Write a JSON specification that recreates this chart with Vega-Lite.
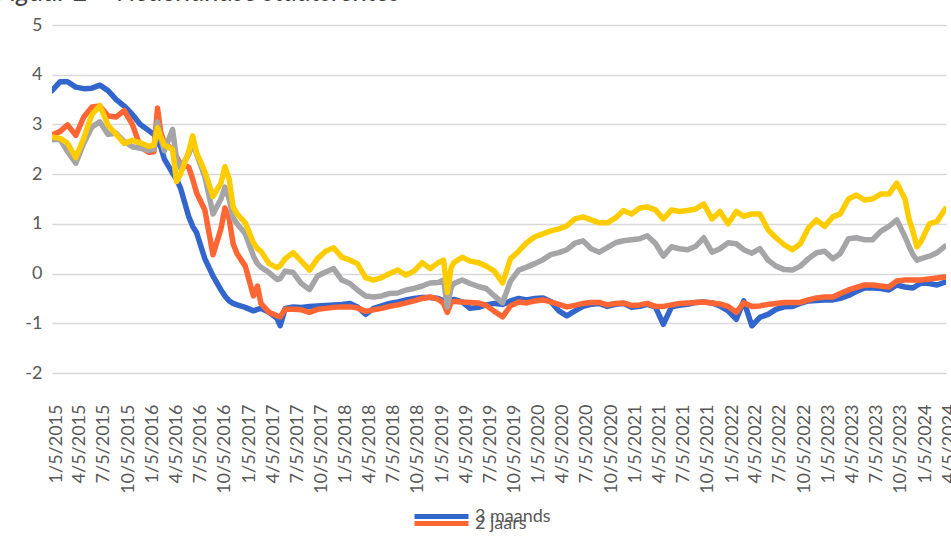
{
  "$schema": "https://vega.github.io/schema/vega-lite/v6.json",
  "width": 894,
  "height": 348,
  "autosize": {"type": "none"},
  "padding": {"left": 52, "top": 25, "right": 5, "bottom": 183},
  "background": "white",
  "config": {"view": {"stroke": null}, "font": "Lato"},
  "title": {"text": "Figuur 2 – Nederlandse staatsrentes", "anchor": "start", "frame": "group", "dx": -56, "dy": 16, "fontStyle": "italic", "fontWeight": "normal", "fontSize": 27, "color": "#404040", "font": "Lato", "baseline": "alphabetic", "offset": 4},
  "data": {"values": [
    {"d":"2015-01-05","m3":3.68,"j2":2.79,"j5":2.69,"j10":2.75},
    {"d":"2015-02-05","m3":3.86,"j2":2.86,"j5":2.70,"j10":2.72},
    {"d":"2015-03-05","m3":3.86,"j2":2.99,"j5":2.45,"j10":2.62},
    {"d":"2015-04-05","m3":3.75,"j2":2.78,"j5":2.22,"j10":2.33},
    {"d":"2015-05-05","m3":3.72,"j2":3.15,"j5":2.62,"j10":2.72},
    {"d":"2015-06-05","m3":3.73,"j2":3.35,"j5":2.95,"j10":3.20},
    {"d":"2015-07-05","m3":3.79,"j2":3.37,"j5":3.05,"j10":3.38},
    {"d":"2015-08-05","m3":3.68,"j2":3.17,"j5":2.80,"j10":2.98},
    {"d":"2015-09-05","m3":3.50,"j2":3.15,"j5":2.82,"j10":2.80},
    {"d":"2015-10-05","m3":3.37,"j2":3.28,"j5":2.66,"j10":2.62},
    {"d":"2015-11-05","m3":3.20,"j2":3.00,"j5":2.55,"j10":2.68},
    {"d":"2015-12-05","m3":3.00,"j2":2.55,"j5":2.52,"j10":2.63},
    {"d":"2016-01-05","m3":2.88,"j2":2.44,"j5":2.48,"j10":2.56},
    {"d":"2016-01-25","m3":2.80,"j2":2.45,"j5":2.50,"j10":2.58},
    {"d":"2016-02-08","m3":2.65,"j2":3.33,"j5":3.05,"j10":2.93},
    {"d":"2016-02-20","m3":2.55,"j2":2.85,"j5":2.72,"j10":2.75},
    {"d":"2016-03-05","m3":2.30,"j2":2.62,"j5":2.47,"j10":2.58},
    {"d":"2016-04-05","m3":2.02,"j2":2.50,"j5":2.90,"j10":2.50},
    {"d":"2016-04-20","m3":1.90,"j2":2.35,"j5":2.30,"j10":1.85},
    {"d":"2016-05-05","m3":1.72,"j2":2.20,"j5":2.12,"j10":2.00},
    {"d":"2016-06-05","m3":1.15,"j2":2.14,"j5":2.40,"j10":2.45},
    {"d":"2016-06-20","m3":0.95,"j2":1.90,"j5":2.62,"j10":2.77},
    {"d":"2016-07-05","m3":0.82,"j2":1.62,"j5":2.40,"j10":2.43},
    {"d":"2016-08-05","m3":0.30,"j2":1.28,"j5":1.95,"j10":2.05},
    {"d":"2016-09-05","m3":-0.05,"j2":0.38,"j5":1.20,"j10":1.55},
    {"d":"2016-10-05","m3":-0.33,"j2":0.90,"j5":1.50,"j10":1.82},
    {"d":"2016-10-20","m3":-0.45,"j2":1.32,"j5":1.74,"j10":2.15},
    {"d":"2016-11-05","m3":-0.55,"j2":1.10,"j5":1.50,"j10":1.90},
    {"d":"2016-11-20","m3":-0.60,"j2":0.60,"j5":1.12,"j10":1.34},
    {"d":"2016-12-05","m3":-0.63,"j2":0.40,"j5":1.00,"j10":1.20},
    {"d":"2017-01-05","m3":-0.68,"j2":0.15,"j5":0.80,"j10":1.02},
    {"d":"2017-02-05","m3":-0.75,"j2":-0.45,"j5":0.35,"j10":0.62},
    {"d":"2017-02-20","m3":-0.72,"j2":-0.25,"j5":0.20,"j10":0.50},
    {"d":"2017-03-05","m3":-0.70,"j2":-0.60,"j5":0.13,"j10":0.45},
    {"d":"2017-04-05","m3":-0.78,"j2":-0.78,"j5":0.02,"j10":0.20},
    {"d":"2017-05-05","m3":-0.90,"j2":-0.85,"j5":-0.12,"j10":0.12},
    {"d":"2017-05-17","m3":-1.05,"j2":-0.87,"j5":-0.10,"j10":0.16},
    {"d":"2017-06-05","m3":-0.70,"j2":-0.72,"j5":0.05,"j10":0.30},
    {"d":"2017-07-05","m3":-0.67,"j2":-0.72,"j5":0.02,"j10":0.42},
    {"d":"2017-08-05","m3":-0.68,"j2":-0.73,"j5":-0.20,"j10":0.25},
    {"d":"2017-09-05","m3":-0.66,"j2":-0.78,"j5":-0.32,"j10":0.07},
    {"d":"2017-10-05","m3":-0.65,"j2":-0.72,"j5":-0.05,"j10":0.30},
    {"d":"2017-11-05","m3":-0.64,"j2":-0.70,"j5":0.03,"j10":0.45},
    {"d":"2017-12-05","m3":-0.63,"j2":-0.68,"j5":0.10,"j10":0.52},
    {"d":"2018-01-05","m3":-0.62,"j2":-0.67,"j5":-0.13,"j10":0.33},
    {"d":"2018-02-05","m3":-0.60,"j2":-0.67,"j5":-0.20,"j10":0.27},
    {"d":"2018-03-05","m3":-0.67,"j2":-0.69,"j5":-0.33,"j10":0.20},
    {"d":"2018-04-05","m3":-0.82,"j2":-0.76,"j5":-0.45,"j10":-0.08},
    {"d":"2018-05-05","m3":-0.70,"j2":-0.73,"j5":-0.47,"j10":-0.13},
    {"d":"2018-06-05","m3":-0.65,"j2":-0.70,"j5":-0.45,"j10":-0.08},
    {"d":"2018-07-05","m3":-0.60,"j2":-0.66,"j5":-0.40,"j10":0.00},
    {"d":"2018-08-05","m3":-0.57,"j2":-0.63,"j5":-0.39,"j10":0.07},
    {"d":"2018-09-05","m3":-0.53,"j2":-0.59,"j5":-0.33,"j10":-0.03},
    {"d":"2018-10-05","m3":-0.50,"j2":-0.55,"j5":-0.30,"j10":0.05},
    {"d":"2018-11-05","m3":-0.48,"j2":-0.50,"j5":-0.25,"j10":0.22},
    {"d":"2018-12-05","m3":-0.48,"j2":-0.47,"j5":-0.19,"j10":0.10},
    {"d":"2019-01-05","m3":-0.50,"j2":-0.52,"j5":-0.18,"j10":0.22},
    {"d":"2019-01-25","m3":-0.55,"j2":-0.60,"j5":-0.13,"j10":0.27},
    {"d":"2019-02-08","m3":-0.68,"j2":-0.78,"j5":-0.67,"j10":-0.38},
    {"d":"2019-02-23","m3":-0.53,"j2":-0.57,"j5":-0.27,"j10":0.13},
    {"d":"2019-03-05","m3":-0.52,"j2":-0.56,"j5":-0.20,"j10":0.22},
    {"d":"2019-04-05","m3":-0.57,"j2":-0.57,"j5":-0.13,"j10":0.33},
    {"d":"2019-05-05","m3":-0.70,"j2":-0.58,"j5":-0.20,"j10":0.25},
    {"d":"2019-06-05","m3":-0.68,"j2":-0.59,"j5":-0.26,"j10":0.22},
    {"d":"2019-07-05","m3":-0.63,"j2":-0.64,"j5":-0.30,"j10":0.15},
    {"d":"2019-08-05","m3":-0.60,"j2":-0.76,"j5":-0.45,"j10":0.05},
    {"d":"2019-09-05","m3":-0.62,"j2":-0.87,"j5":-0.59,"j10":-0.19},
    {"d":"2019-10-05","m3":-0.55,"j2":-0.65,"j5":-0.15,"j10":0.30},
    {"d":"2019-11-05","m3":-0.50,"j2":-0.57,"j5":0.07,"j10":0.45},
    {"d":"2019-12-05","m3":-0.53,"j2":-0.59,"j5":0.13,"j10":0.62},
    {"d":"2020-01-05","m3":-0.50,"j2":-0.55,"j5":0.20,"j10":0.74},
    {"d":"2020-02-05","m3":-0.49,"j2":-0.53,"j5":0.28,"j10":0.80},
    {"d":"2020-03-05","m3":-0.56,"j2":-0.57,"j5":0.38,"j10":0.86},
    {"d":"2020-04-05","m3":-0.75,"j2":-0.62,"j5":0.42,"j10":0.90},
    {"d":"2020-05-05","m3":-0.85,"j2":-0.67,"j5":0.48,"j10":0.96},
    {"d":"2020-06-05","m3":-0.75,"j2":-0.64,"j5":0.61,"j10":1.10},
    {"d":"2020-07-05","m3":-0.66,"j2":-0.60,"j5":0.66,"j10":1.14},
    {"d":"2020-08-05","m3":-0.62,"j2":-0.58,"j5":0.50,"j10":1.08},
    {"d":"2020-09-05","m3":-0.60,"j2":-0.58,"j5":0.43,"j10":1.02},
    {"d":"2020-10-05","m3":-0.66,"j2":-0.63,"j5":0.52,"j10":1.02},
    {"d":"2020-11-05","m3":-0.62,"j2":-0.60,"j5":0.62,"j10":1.12},
    {"d":"2020-12-05","m3":-0.60,"j2":-0.59,"j5":0.66,"j10":1.27},
    {"d":"2021-01-05","m3":-0.68,"j2":-0.64,"j5":0.68,"j10":1.20},
    {"d":"2021-02-05","m3":-0.66,"j2":-0.63,"j5":0.70,"j10":1.32},
    {"d":"2021-03-05","m3":-0.62,"j2":-0.60,"j5":0.76,"j10":1.34},
    {"d":"2021-04-05","m3":-0.67,"j2":-0.66,"j5":0.61,"j10":1.28},
    {"d":"2021-05-05","m3":-1.02,"j2":-0.66,"j5":0.35,"j10":1.10},
    {"d":"2021-06-05","m3":-0.67,"j2":-0.63,"j5":0.54,"j10":1.28},
    {"d":"2021-07-05","m3":-0.64,"j2":-0.60,"j5":0.50,"j10":1.25},
    {"d":"2021-08-05","m3":-0.62,"j2":-0.59,"j5":0.48,"j10":1.27},
    {"d":"2021-09-05","m3":-0.58,"j2":-0.58,"j5":0.55,"j10":1.30},
    {"d":"2021-10-05","m3":-0.57,"j2":-0.57,"j5":0.72,"j10":1.40},
    {"d":"2021-11-05","m3":-0.59,"j2":-0.59,"j5":0.43,"j10":1.10},
    {"d":"2021-12-05","m3":-0.65,"j2":-0.61,"j5":0.50,"j10":1.25},
    {"d":"2022-01-05","m3":-0.75,"j2":-0.66,"j5":0.62,"j10":1.00},
    {"d":"2022-02-05","m3":-0.92,"j2":-0.78,"j5":0.60,"j10":1.25},
    {"d":"2022-03-05","m3":-0.55,"j2":-0.59,"j5":0.48,"j10":1.15},
    {"d":"2022-04-05","m3":-1.05,"j2":-0.66,"j5":0.41,"j10":1.20},
    {"d":"2022-05-05","m3":-0.88,"j2":-0.65,"j5":0.50,"j10":1.20},
    {"d":"2022-06-05","m3":-0.82,"j2":-0.62,"j5":0.27,"j10":0.88},
    {"d":"2022-07-05","m3":-0.72,"j2":-0.60,"j5":0.15,"j10":0.72},
    {"d":"2022-08-05","m3":-0.67,"j2":-0.58,"j5":0.08,"j10":0.58},
    {"d":"2022-09-05","m3":-0.66,"j2":-0.58,"j5":0.07,"j10":0.48},
    {"d":"2022-10-05","m3":-0.60,"j2":-0.58,"j5":0.15,"j10":0.60},
    {"d":"2022-11-05","m3":-0.55,"j2":-0.53,"j5":0.30,"j10":0.92},
    {"d":"2022-12-05","m3":-0.54,"j2":-0.49,"j5":0.42,"j10":1.08},
    {"d":"2023-01-05","m3":-0.53,"j2":-0.47,"j5":0.45,"j10":0.95},
    {"d":"2023-02-05","m3":-0.53,"j2":-0.47,"j5":0.30,"j10":1.14},
    {"d":"2023-03-05","m3":-0.50,"j2":-0.40,"j5":0.40,"j10":1.20},
    {"d":"2023-04-05","m3":-0.44,"j2":-0.33,"j5":0.70,"j10":1.50},
    {"d":"2023-05-05","m3":-0.36,"j2":-0.28,"j5":0.72,"j10":1.58},
    {"d":"2023-06-05","m3":-0.29,"j2":-0.23,"j5":0.68,"j10":1.48},
    {"d":"2023-07-05","m3":-0.29,"j2":-0.23,"j5":0.68,"j10":1.50},
    {"d":"2023-08-05","m3":-0.30,"j2":-0.25,"j5":0.85,"j10":1.60},
    {"d":"2023-09-05","m3":-0.33,"j2":-0.27,"j5":0.95,"j10":1.60},
    {"d":"2023-10-05","m3":-0.23,"j2":-0.15,"j5":1.08,"j10":1.82},
    {"d":"2023-11-05","m3":-0.27,"j2":-0.13,"j5":0.74,"j10":1.50},
    {"d":"2023-11-20","m3":-0.28,"j2":-0.13,"j5":0.55,"j10":1.10},
    {"d":"2023-12-05","m3":-0.29,"j2":-0.13,"j5":0.38,"j10":0.85},
    {"d":"2023-12-20","m3":-0.24,"j2":-0.13,"j5":0.27,"j10":0.54},
    {"d":"2024-01-05","m3":-0.19,"j2":-0.13,"j5":0.30,"j10":0.65},
    {"d":"2024-02-05","m3":-0.20,"j2":-0.11,"j5":0.35,"j10":1.00},
    {"d":"2024-03-05","m3":-0.23,"j2":-0.09,"j5":0.42,"j10":1.05},
    {"d":"2024-04-05","m3":-0.17,"j2":-0.07,"j5":0.55,"j10":1.30}
  ], "format": {"parse": {"d": "date"}}},
  "encoding": {
    "x": {
      "field": "d", "type": "temporal",
      "scale": {"type": "utc", "domain": [{"year": 2015, "month": 1, "date": 5, "utc": true}, {"year": 2024, "month": 4, "date": 8, "utc": true}]},
      "axis": {
        "title": null, "grid": false, "ticks": false, "domain": false,
        "format": "%-m/%-d/%Y", "labelAngle": -90, "labelPadding": 31, "labelOffset": 4,
        "labelFont": "Lato", "labelFontSize": 18, "labelColor": "#595959",
        "labelOverlap": false, "labelFlush": false, "labelBound": false,
        "values": [
          {"year":2015,"month":1,"date":5,"utc":true},{"year":2015,"month":4,"date":5,"utc":true},{"year":2015,"month":7,"date":5,"utc":true},{"year":2015,"month":10,"date":5,"utc":true},
          {"year":2016,"month":1,"date":5,"utc":true},{"year":2016,"month":4,"date":5,"utc":true},{"year":2016,"month":7,"date":5,"utc":true},{"year":2016,"month":10,"date":5,"utc":true},
          {"year":2017,"month":1,"date":5,"utc":true},{"year":2017,"month":4,"date":5,"utc":true},{"year":2017,"month":7,"date":5,"utc":true},{"year":2017,"month":10,"date":5,"utc":true},
          {"year":2018,"month":1,"date":5,"utc":true},{"year":2018,"month":4,"date":5,"utc":true},{"year":2018,"month":7,"date":5,"utc":true},{"year":2018,"month":10,"date":5,"utc":true},
          {"year":2019,"month":1,"date":5,"utc":true},{"year":2019,"month":4,"date":5,"utc":true},{"year":2019,"month":7,"date":5,"utc":true},{"year":2019,"month":10,"date":5,"utc":true},
          {"year":2020,"month":1,"date":5,"utc":true},{"year":2020,"month":4,"date":5,"utc":true},{"year":2020,"month":7,"date":5,"utc":true},{"year":2020,"month":10,"date":5,"utc":true},
          {"year":2021,"month":1,"date":5,"utc":true},{"year":2021,"month":4,"date":5,"utc":true},{"year":2021,"month":7,"date":5,"utc":true},{"year":2021,"month":10,"date":5,"utc":true},
          {"year":2022,"month":1,"date":5,"utc":true},{"year":2022,"month":4,"date":5,"utc":true},{"year":2022,"month":7,"date":5,"utc":true},{"year":2022,"month":10,"date":5,"utc":true},
          {"year":2023,"month":1,"date":5,"utc":true},{"year":2023,"month":4,"date":5,"utc":true},{"year":2023,"month":7,"date":5,"utc":true},{"year":2023,"month":10,"date":5,"utc":true},
          {"year":2024,"month":1,"date":5,"utc":true},{"year":2024,"month":4,"date":5,"utc":true}
        ]
      }
    },
    "y": {
      "field": "rente", "type": "quantitative",
      "scale": {"domain": [-2, 5], "nice": false, "zero": false},
      "axis": {
        "title": null, "values": [-2, -1, 0, 1, 2, 3, 4, 5], "grid": true, "gridColor": "#d9d9d9", "gridWidth": 1.5,
        "ticks": false, "domain": false, "labelPadding": 10, "labelFont": "Lato", "labelFontSize": 18,
        "labelColor": "#595959", "labelExpr": "'' + datum.value"
      }
    }
  },
  "resolve": {"scale": {"color": "independent"}},
  "layer": [
    {
      "transform": [{"filter": "utcmonth(datum.d) % 3 == 0 && utcdate(datum.d) == 5"}],
      "mark": {"type": "rule", "color": "#d9d9d9", "strokeWidth": 1.5},
      "encoding": {
        "y": {"datum": 0, "type": "quantitative"},
        "y2": {"datum": -0.18}
      }
    },
    {
      "transform": [{"fold": ["m3"], "as": ["serie", "rente"]}],
      "mark": {"type": "line", "strokeWidth": 5.5, "strokeJoin": "round", "strokeCap": "round", "clip": true},
      "encoding": {
        "color": {
          "field": "serie", "type": "nominal",
          "scale": {"domain": ["m3"], "range": ["#3366cc"]},
          "legend": {
            "labelExpr": "'3 maands'", "title": null, "orient": "none", "legendX": 360, "legendY": 462,
            "symbolType": "stroke", "symbolSize": 2916, "symbolStrokeWidth": 5,
            "labelFont": "Lato", "labelFontSize": 18, "labelColor": "#595959", "labelOffset": 4
          }
        }
      }
    },
    {
      "transform": [{"fold": ["j2"], "as": ["serie", "rente"]}],
      "mark": {"type": "line", "strokeWidth": 5.5, "strokeJoin": "round", "strokeCap": "round", "clip": true},
      "encoding": {
        "color": {
          "field": "serie", "type": "nominal",
          "scale": {"domain": ["j2"], "range": ["#ff6633"]},
          "legend": {
            "labelExpr": "'2 jaars'", "title": null, "orient": "none", "legendX": 360, "legendY": 469,
            "symbolType": "stroke", "symbolSize": 2916, "symbolStrokeWidth": 5,
            "labelFont": "Lato", "labelFontSize": 18, "labelColor": "#595959", "labelOffset": 4
          }
        }
      }
    },
    {
      "transform": [{"fold": ["j5", "j10"], "as": ["serie", "rente"]}],
      "mark": {"type": "line", "strokeWidth": 5.5, "strokeJoin": "round", "strokeCap": "round", "clip": true},
      "encoding": {
        "color": {
          "field": "serie", "type": "nominal",
          "scale": {"domain": ["j5", "j10"], "range": ["#a5a5a8", "#ffcc00"]},
          "legend": null
        }
      }
    }
  ]
}
